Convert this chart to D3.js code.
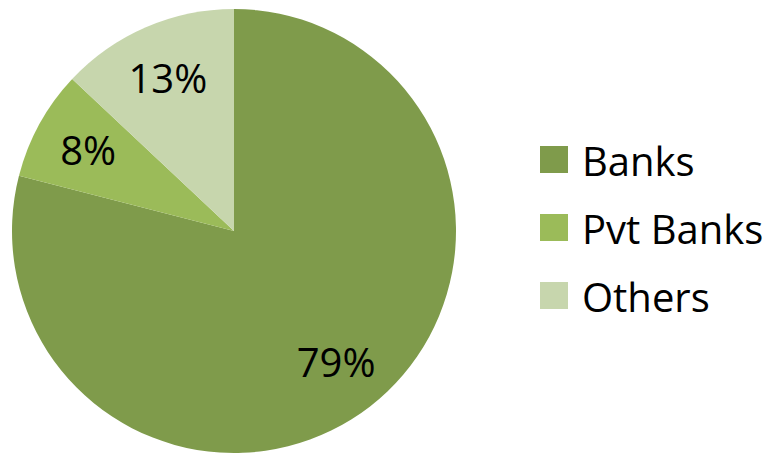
<!DOCTYPE html>
<html>
<head>
<meta charset="utf-8">
<script src="https://cdn.jsdelivr.net/npm/d3@7"></script>
<style>
    body { margin: 0; background: #fff; }
    text { font-family: "Open Sans", sans-serif; fill: #000; }
</style>
</head>
<body>
<svg id="chart" width="773" height="455"></svg>
<script>
const categories = ["Banks", "Pvt Banks", "Others"];
const values = [79, 8, 13];
const colors = ["#7f9b4b", "#9bbb59", "#c7d6ad"];

const svg = d3.select("#chart");
const cx = 234, cy = 231, radius = 222;

const pie = d3.pie().sort(null).value(d => d.value);
const data = pie(categories.map((c, i) => ({ name: c, value: values[i] })));

const arc = d3.arc().innerRadius(0).outerRadius(radius);
const labelArc = d3.arc().innerRadius(radius * 0.75).outerRadius(radius * 0.75);

const g = svg.append("g").attr("transform", `translate(${cx},${cy})`);

g.selectAll("path")
    .data(data)
    .enter()
    .append("path")
    .attr("d", arc)
    .attr("fill", (d, i) => colors[i]);

const total = d3.sum(values);
g.selectAll(".label")
    .data(data)
    .enter()
    .append("text")
    .attr("class", "label")
    .attr("transform", d => `translate(${labelArc.centroid(d)})`)
    .attr("text-anchor", "middle")
    .attr("dy", "0.36em")
    .style("font-size", "40px")
    .text(d => Math.round(d.data.value / total * 100) + "%");

// legend
const legend = svg.append("g").attr("transform", "translate(540,146)");
const item = legend.selectAll("g")
    .data(categories)
    .enter()
    .append("g")
    .attr("transform", (d, i) => `translate(0,${i * 68})`);

item.append("rect")
    .attr("width", 28)
    .attr("height", 27)
    .attr("fill", (d, i) => colors[i]);

item.append("text")
    .attr("x", 42)
    .attr("y", 30)
    .style("font-size", "40px")
    .text(d => d);
</script>
</body>
</html>
